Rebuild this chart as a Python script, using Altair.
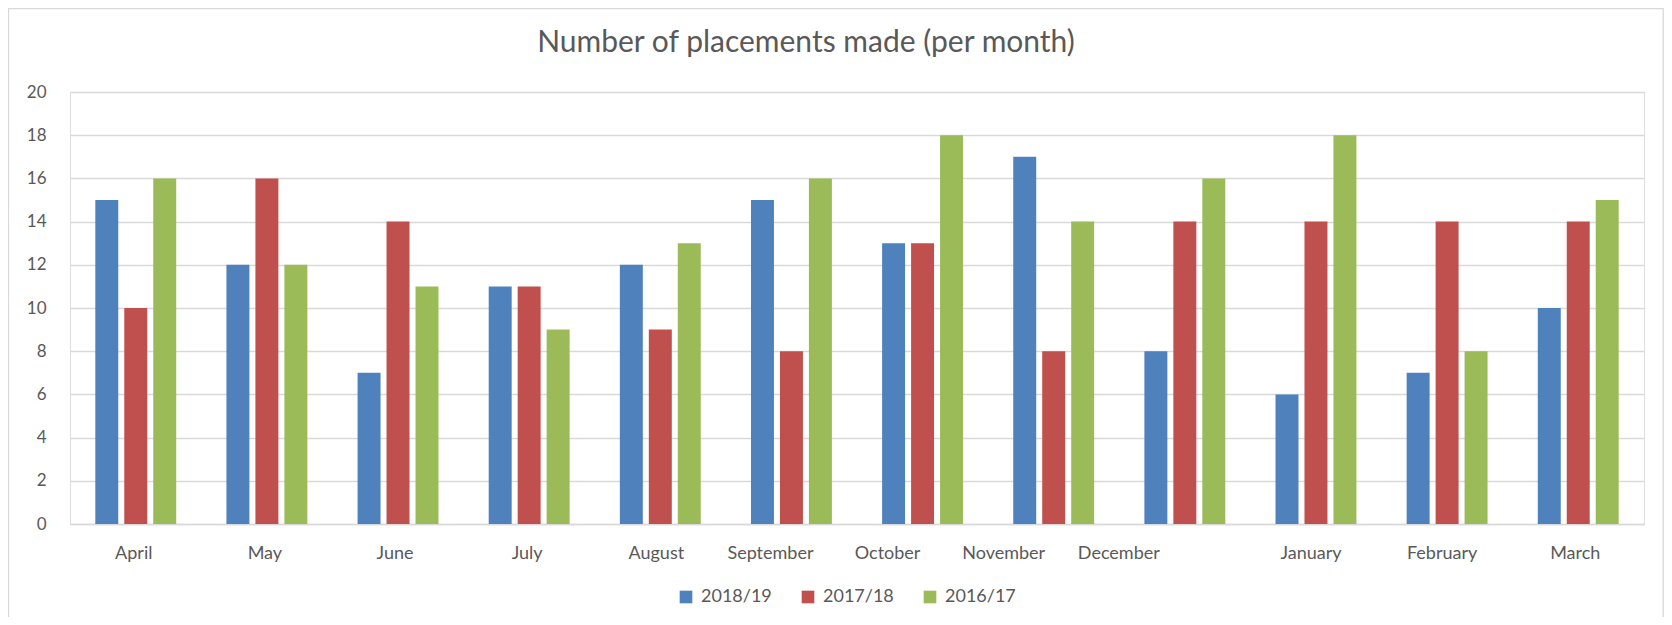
import altair as alt
import pandas as pd

months = ["April", "May", "June", "July", "August", "September",
          "October", "November", "December", "January", "February", "March"]
series_names = ["2018/19", "2017/18", "2016/17"]
s2018_19 = [15, 12, 7, 11, 12, 15, 13, 17, 8, 6, 7, 10]
s2017_18 = [10, 16, 14, 11, 9, 8, 13, 8, 14, 14, 14, 14]
s2016_17 = [16, 12, 11, 9, 13, 16, 18, 14, 16, 18, 8, 15]
y_ticks = [0, 2, 4, 6, 8, 10, 12, 14, 16, 18, 20]
colors = ["#4F81BD", "#C0504D", "#9BBB59"]

# label shifts seen in the reference (Sep-Dec labels sit left of their groups)
label_shift = {"April": -2, "May": -2, "June": -3, "July": -2, "August": -4,
               "September": -21, "October": -35, "November": -50, "December": -66,
               "January": -5, "February": -5, "March": -3}

rows = []
for name, vals in zip(series_names, [s2018_19, s2017_18, s2016_17]):
    for m, v in zip(months, vals):
        rows.append({"month": m, "series": name, "value": v})
df = pd.DataFrame(rows)

TXT = "#595959"
GRID = "#d9d9d9"
FONT = "Lato"

W, H = 1574, 432
PAD = {"left": 62, "top": 84, "right": 20, "bottom": 93}

label_offset = {
    "condition": [{"test": f"datum.value == '{m}'", "value": s} for m, s in label_shift.items()],
    "value": 0,
}

bars = alt.Chart(df).mark_bar().encode(
    x=alt.X("month:N", sort=months, title=None,
            scale=alt.Scale(paddingInner=0.383, paddingOuter=0.193),
            axis=alt.Axis(labelAngle=0, labelFont=FONT, labelFontSize=18, labelColor=TXT,
                          labelPadding=20, ticks=False, domain=True, domainColor=GRID,
                          domainWidth=1.3, grid=False, labelOffset=label_offset)),
    xOffset=alt.XOffset("series:N", sort=series_names,
                        scale=alt.Scale(paddingInner=0.207, paddingOuter=0)),
    y=alt.Y("value:Q", title=None,
            scale=alt.Scale(domain=[0, 20], nice=False),
            axis=alt.Axis(values=y_ticks, labelFont=FONT, labelFontSize=17, labelColor=TXT,
                          labelPadding=24, ticks=False, domain=False, grid=True,
                          gridColor=GRID, gridWidth=1.3)),
    color=alt.Color("series:N", sort=series_names,
                    scale=alt.Scale(domain=series_names, range=colors),
                    legend=alt.Legend(title=None, orient="none", legendX=607, legendY=496,
                                      direction="horizontal", columns=3, columnPadding=27,
                                      symbolType="square", symbolSize=160, symbolStrokeWidth=0,
                                      labelFont=FONT, labelFontSize=18, labelColor=TXT,
                                      labelOffset=6, padding=0)),
)

frame = alt.Chart(pd.DataFrame({"k": [0]})).mark_rect(
    fill=None, stroke=GRID, strokeWidth=1.3
).encode(
    x=alt.value(-61.5), x2=alt.value(W + PAD["right"] - 0.8),
    y=alt.value(-83.5), y2=alt.value(H + 300),
)

chart = alt.layer(bars, frame).properties(
    width=W, height=H,
    padding=PAD,
    autosize=alt.AutoSizeParams(type="none"),
    title=alt.TitleParams("Number of placements made (per month)", font=FONT, fontSize=30,
                          fontWeight="normal", color=TXT, anchor="middle", frame="group",
                          dx=-51, offset=-74, baseline="alphabetic"),
).configure_view(stroke=None).configure(background="white")

chart.save("out.html", embed_options={"renderer": "svg", "actions": False})
